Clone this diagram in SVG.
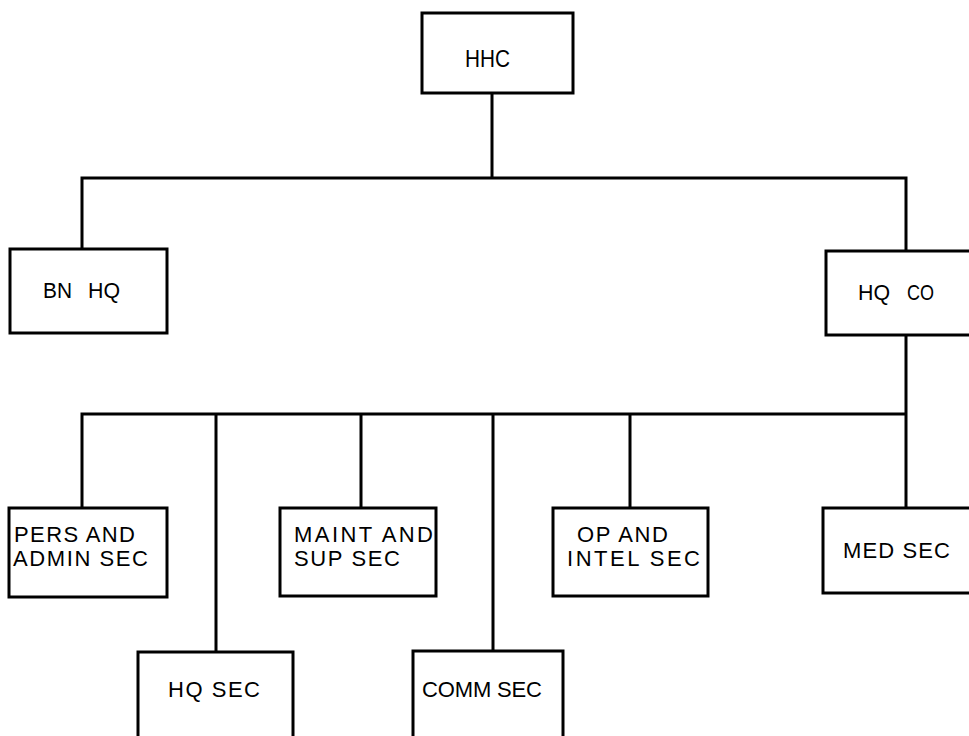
<svg xmlns="http://www.w3.org/2000/svg" width="969" height="736" viewBox="0 0 969 736">
<style>
.box{fill:#fff;stroke:#000;stroke-width:3}
.ln{fill:none;stroke:#000;stroke-width:3;stroke-linecap:square}
text{font-family:"Liberation Sans Narrow","Liberation Sans",Arial,sans-serif;font-size:22px;fill:#000}
</style>
<rect width="969" height="736" fill="#fff"/>
<g id="connectors">
<path class="ln" d="M492 93V178M82 178H906M82 178V249M906 178V251"/>
<path class="ln" d="M906 335V414M82 414H906M82 414V508M216 414V652M361 414V508M493 414V651M630 414V508M906 414V508"/>
</g>
<g id="hhc"><rect class="box" x="422" y="13" width="151" height="80"/><text x="465" y="67" style="font-size:24px" textLength="45" lengthAdjust="spacingAndGlyphs">HHC</text></g>
<g id="bnhq"><rect class="box" x="10" y="249" width="157" height="84"/><text y="298"><tspan x="43" textLength="29" lengthAdjust="spacingAndGlyphs">BN</tspan> <tspan x="88" textLength="32" lengthAdjust="spacingAndGlyphs">HQ</tspan></text></g>
<g id="hqco"><rect class="box" x="826" y="251" width="160" height="84"/><text y="300"><tspan x="858" textLength="32" lengthAdjust="spacingAndGlyphs">HQ</tspan> <tspan x="907" textLength="27" lengthAdjust="spacingAndGlyphs">CO</tspan></text></g>
<g id="pers"><rect class="box" x="9" y="508" width="158" height="89"/><text x="14" y="542" textLength="121" lengthAdjust="spacing">PERS AND</text><text x="13" y="566" textLength="135" lengthAdjust="spacing">ADMIN SEC</text></g>
<g id="maint"><rect class="box" x="280" y="508" width="156" height="88"/><text x="294" y="542" textLength="139" lengthAdjust="spacing">MAINT AND</text><text x="294" y="566" textLength="106" lengthAdjust="spacing">SUP SEC</text></g>
<g id="op"><rect class="box" x="553" y="508" width="155" height="88"/><text x="577" y="542" textLength="91" lengthAdjust="spacing">OP AND</text><text x="567" y="566" textLength="133" lengthAdjust="spacing">INTEL SEC</text></g>
<g id="med"><rect class="box" x="823" y="508" width="160" height="85"/><text x="843" y="558" textLength="107" lengthAdjust="spacing">MED SEC</text></g>
<g id="hqsec"><rect class="box" x="138" y="652" width="155" height="100"/><text x="168" y="697" textLength="92" lengthAdjust="spacing">HQ SEC</text></g>
<g id="comm"><rect class="box" x="413" y="651" width="150" height="100"/><text x="422" y="697" textLength="120" lengthAdjust="spacing">COMM SEC</text></g>
</svg>
